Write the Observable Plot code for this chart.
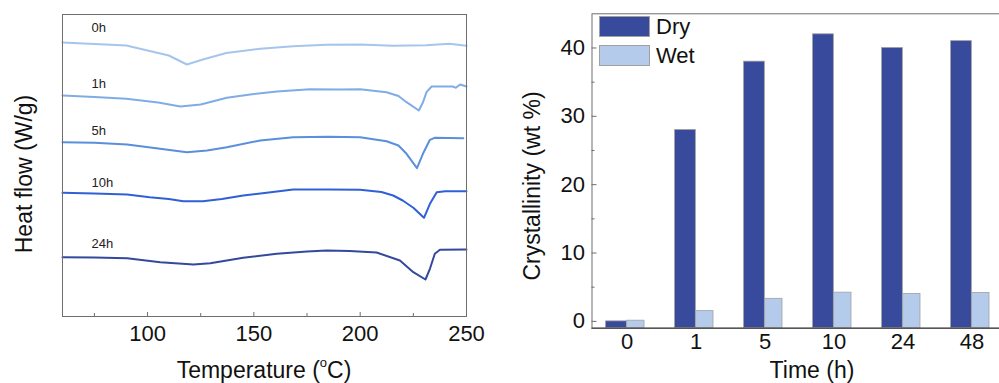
<!DOCTYPE html>
<html>
<head>
<meta charset="utf-8">
<script src="https://cdn.jsdelivr.net/npm/d3@7"></script>
<script src="https://cdn.jsdelivr.net/npm/@observablehq/plot@0.6"></script>
<style>
  html, body { margin: 0; padding: 0; background: #fff; overflow: hidden; }
  #wrap { position: relative; width: 999px; height: 383px; overflow: hidden; font-family: "Liberation Sans", Arial, sans-serif; color: #111; }
  #left, #right { position: absolute; top: 0; }
  #left { left: 0; width: 500px; }
  #right { left: 500px; width: 520px; }
  #left svg, #right svg { max-width: none !important; }
  .title { position: absolute; font-size: 23px; white-space: nowrap; transform: translate(-50%, -50%); }
  .vtitle { transform: translate(-50%, -50%) rotate(-90deg); }
  .title sup { font-size: 13px; position: relative; top: -2px; }
  .legend { position: absolute; left: 599px; top: 16px; font-size: 22px; }
  .legend .row { position: relative; height: 28.5px; }
  .legend .sw { position: absolute; left: 0; width: 51px; height: 21px; border: 1px solid #a0a0a0; box-sizing: border-box; }
  .legend .lab { position: absolute; left: 57px; top: -1px; line-height: 24px; }
</style>
</head>
<body>
<div id="wrap">
  <div id="left"></div>
  <div id="right"></div>
  <div class="title vtitle" style="left:24px; top:174px;">Heat flow (W/g)</div>
  <div class="title" style="left:264px; top:370px;">Temperature (<sup>o</sup>C)</div>
  <div class="title vtitle" style="left:532px; top:186px;">Crystallinity (wt %)</div>
  <div class="title" style="left:812px; top:370px;">Time (h)</div>
  <div class="legend" id="legend"></div>
</div>
<script>
// ---------- Left panel: DSC curves ----------
const curveLabels = ["0h", "1h", "5h", "10h", "24h"];
const curveColors = ["#a6c5ec", "#80ace6", "#5a8fdc", "#3060d6", "#33499c"];

const temp0h = [60, 70, 80, 90, 100, 110, 118.5, 126, 137, 153, 168.5, 184, 200, 215.5, 231, 242, 250];
const flow0h = [27.4, 27.3, 27.2, 27.1, 26.6, 26.1, 25.2, 25.7, 26.35, 26.77, 27.03, 27.17, 27.2, 27.07, 27.13, 27.27, 27.07];

const temp1h = [60, 75, 90, 105, 115.4, 125, 137.3, 150, 160.8, 176.4, 190, 200, 212.4, 218, 221.8, 227.6, 229.5, 231.2, 233.6, 243.6, 245, 247, 250];
const flow1h = [22.1, 21.95, 21.77, 21.4, 21.0, 21.2, 21.87, 22.25, 22.5, 22.73, 22.7, 22.73, 22.43, 22.05, 21.43, 20.6, 21.4, 22.43, 23.0, 23.0, 22.87, 23.2, 23.0];

const temp5h = [60, 75, 90.4, 105, 118.5, 128, 137.3, 153, 168.5, 185, 200, 212.4, 218, 221.8, 226.7, 229.5, 232.8, 235, 248.5];
const flow5h = [17.43, 17.37, 17.2, 16.8, 16.43, 16.6, 16.93, 17.6, 17.93, 17.97, 17.93, 17.53, 17.1, 16.27, 14.83, 16.27, 17.67, 17.87, 17.83];

const temp10h = [60, 75, 90.4, 101, 110, 116.8, 126, 135, 145, 157, 168.5, 185, 200, 210, 215.5, 220, 225, 230, 232.8, 236, 240, 250];
const flow10h = [12.37, 12.3, 12.2, 11.93, 11.75, 11.53, 11.53, 11.75, 12.1, 12.4, 12.7, 12.7, 12.67, 12.45, 12.1, 11.6, 10.87, 9.87, 11.27, 12.43, 12.53, 12.53];

const temp24h = [60, 75, 90.4, 106, 121.6, 129.5, 145, 160.8, 175, 184.3, 195, 207.7, 218.7, 225, 230.7, 232.8, 235.1, 237.5, 250];
const flow24h = [5.93, 5.9, 5.83, 5.43, 5.2, 5.33, 5.87, 6.27, 6.5, 6.6, 6.55, 6.4, 5.6, 4.43, 3.7, 4.77, 6.27, 6.67, 6.7];

const labelTemp = 73.6;
const labelFlow = [28.88, 23.22, 18.55, 13.4, 7.22];

const tempTicks = [100, 150, 200, 250];
const tempMinorTicks = [75, 125, 175, 225];

// ---------- Right panel: crystallinity ----------
const times = ["0", "1", "5", "10", "24", "48"];
const dryValues = [0, 28, 38, 42, 40, 41];
const wetValues = [0.1, 1.5, 3.3, 4.2, 4.0, 4.15];
const crystTicks = [0, 10, 20, 30, 40];
const crystMinorTicks = [5, 15, 25, 35];
const seriesNames = ["Dry", "Wet"];
const seriesColors = ["#384a9b", "#b5cbeb"];

// build tables
const tempArrays = [temp0h, temp1h, temp5h, temp10h, temp24h];
const flowArrays = [flow0h, flow1h, flow5h, flow10h, flow24h];
const curveRows = [];
curveLabels.forEach((lab, i) => {
  tempArrays[i].forEach((t, j) => curveRows.push({series: lab, t, v: flowArrays[i][j]}));
});
const labelRows = curveLabels.map((lab, i) => ({label: lab, t: labelTemp, v: labelFlow[i]}));

const fontStyle = {fontFamily: "'Liberation Sans', Arial, sans-serif", fontSize: "22px", color: "#111", background: "transparent", overflow: "visible", maxWidth: "none"};

const left = Plot.plot({
  width: 500, height: 383,
  marginLeft: 62, marginRight: 34, marginTop: 14, marginBottom: 67,
  style: fontStyle,
  x: {domain: [60, 250]},
  y: {domain: [0, 30.2], axis: null},
  color: {domain: curveLabels, range: curveColors},
  marks: [
    Plot.line(curveRows, {x: "t", y: "v", z: "series", stroke: "series", strokeWidth: 2, curve: "linear"}),
    Plot.text(labelRows, {x: "t", y: "v", text: "label", textAnchor: "start", fontSize: 13, fill: "#222"}),
    Plot.frame({stroke: "#6e6e6e"}),
    Plot.axisX(tempTicks, {tickSize: -4, tickPadding: 13, stroke: "#6e6e6e", fill: "#111", fontSize: 22, label: null}),
    Plot.axisX(tempMinorTicks, {tickSize: -3, tickFormat: () => "", stroke: "#6e6e6e", label: null})
  ]
});
document.getElementById("left").appendChild(left);

const barRows = times.map((t, i) => ({time: t, dry: dryValues[i], wet: wetValues[i]}));
const yMin = -1;
const right = Plot.plot({
  width: 520, height: 383,
  marginLeft: 91.5, marginRight: 12.7, marginTop: 13.3, marginBottom: 55.3,
  style: fontStyle,
  x: {domain: times, type: "band", paddingInner: 0, paddingOuter: 0},
  y: {domain: [yMin, 45]},
  marks: [
    Plot.barY(barRows, {x: "time", y1: yMin, y2: "dry", fill: seriesColors[0], stroke: "#a0a0a0", strokeWidth: 0.8, insetLeft: 13.6, insetRight: 34.65}),
    Plot.barY(barRows, {x: "time", y1: yMin, y2: "wet", fill: seriesColors[1], stroke: "#a0a0a0", strokeWidth: 0.8, insetLeft: 34.65, insetRight: 17}),
    Plot.frame({stroke: "#6e6e6e"}),
    Plot.ruleY([yMin], {stroke: "#555", strokeWidth: 1.6}),
    Plot.axisY(crystTicks, {tickSize: -5, tickPadding: 12, stroke: "#6e6e6e", fill: "#111", fontSize: 22, label: null}),
    Plot.axisY(crystMinorTicks, {tickSize: -3, tickFormat: () => "", stroke: "#6e6e6e", label: null}),
    Plot.axisX({tickSize: 0, tickPadding: 5, fill: "#111", fontSize: 22, label: null})
  ]
});
document.getElementById("right").appendChild(right);

// legend
const legend = document.getElementById("legend");
seriesNames.forEach((name, i) => {
  const row = document.createElement("div");
  row.className = "row";
  row.innerHTML = `<div class="sw" style="background:${seriesColors[i]}"></div><div class="lab">${name}</div>`;
  legend.appendChild(row);
});
</script>
</body>
</html>
